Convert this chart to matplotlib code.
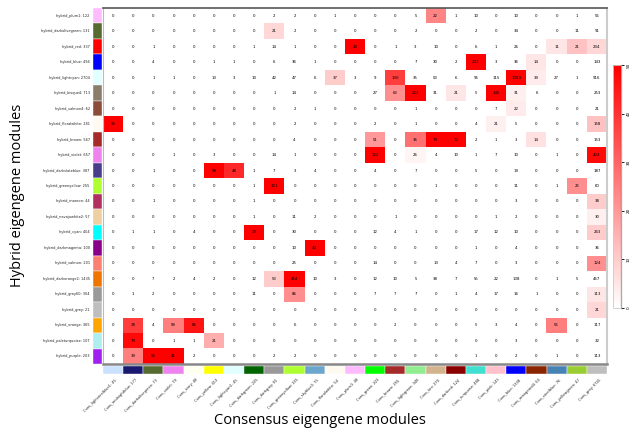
import matplotlib
matplotlib.use('Agg')
import matplotlib.pyplot as plt
import numpy as np
from matplotlib.colors import LinearSegmentedColormap, Normalize
from matplotlib.cm import ScalarMappable

# ---------------- data ----------------
row_labels = [
    "hybrid_plum1: 122", "hybrid_darkolivegreen: 131", "hybrid_red: 337",
    "hybrid_blue: 494", "hybrid_lightcyan: 2704", "hybrid_bisque4: 713",
    "hybrid_salmon4: 62", "hybrid_floralwhite: 281", "hybrid_brown: 567",
    "hybrid_violet: 657", "hybrid_darkslateblue: 387", "hybrid_greenyellow: 255",
    "hybrid_maroon: 44", "hybrid_navajowhite2: 57", "hybrid_cyan: 404",
    "hybrid_darkmagenta: 100", "hybrid_salmon: 201", "hybrid_darkorange2: 1435",
    "hybrid_grey60: 304", "hybrid_grey: 21", "hybrid_orange: 365",
    "hybrid_paleturquoise: 107", "hybrid_purple: 203",
]
row_colors = [
    "#FFBBFF", "#556B2F", "#FF0000", "#0000FF", "#E0FFFF", "#8B7D6B",
    "#8B4C39", "#FFFAF0", "#A52A2A", "#EE82EE", "#483D8B", "#ADFF2F",
    "#B03060", "#EECFA1", "#00FFFF", "#8B008B", "#FA8072", "#EE7600",
    "#999999", "#BEBEBE", "#FFA500", "#AFEEEE", "#A020F0",
]
col_labels = [
    "Cons_lightsteelblue1: 45", "Cons_midnightblue: 177", "Cons_darkolivegreen: 73",
    "Cons_violet: 79", "Cons_ivory: 48", "Cons_yellow: 413", "Cons_lightcyan1: 45",
    "Cons_darkgreen: 225", "Cons_darkgrey: 81", "Cons_greenyellow: 335",
    "Cons_skyblue3: 75", "Cons_floralwhite: 54", "Cons_plum1: 48", "Cons_green: 223",
    "Cons_brown: 255", "Cons_lightgreen: 348", "Cons_tan: 270", "Cons_darkred: 124",
    "Cons_turquoise: 488", "Cons_pink: 143", "Cons_blue: 1338", "Cons_orangered4: 64",
    "Cons_steelblue: 76", "Cons_yellowgreen: 47", "Cons_grey: 6741",
]
col_colors = [
    "#CAE1FF", "#191970", "#556B2F", "#EE82EE", "#FFFFF0", "#FFFF00", "#E0FFFF",
    "#006400", "#999999", "#ADFF2F", "#6CA6CD", "#FFFAF0", "#FFBBFF", "#00FF00",
    "#A52A2A", "#90EE90", "#D2B48C", "#8B0000", "#40E0D0", "#FFC0CB", "#0000FF",
    "#8B2500", "#4682B4", "#9ACD32", "#BEBEBE",
]

# gene overlap counts (rows = hybrid modules, cols = consensus modules)
overlap_counts = [
    [0, 0, 0, 0, 0, 0, 0, 0, 2, 2, 0, 1, 0, 0, 0, 5, 22, 1, 10, 0, 10, 0, 0, 1, 56],
    [0, 0, 0, 0, 0, 0, 0, 0, 21, 2, 0, 0, 0, 0, 0, 2, 0, 0, 2, 0, 34, 0, 0, 11, 91],
    [0, 0, 1, 0, 0, 0, 0, 1, 14, 1, 0, 0, 40, 0, 1, 3, 10, 0, 6, 1, 26, 0, 11, 21, 234],
    [0, 0, 4, 0, 0, 1, 1, 0, 6, 36, 1, 0, 0, 0, 0, 7, 30, 2, 203, 3, 36, 14, 0, 0, 143],
    [0, 0, 1, 1, 0, 13, 3, 10, 42, 47, 6, 37, 3, 9, 130, 35, 53, 6, 95, 115, 1084, 39, 27, 1, 916],
    [0, 0, 0, 0, 0, 0, 0, 0, 1, 14, 0, 0, 0, 27, 63, 223, 31, 21, 5, 146, 31, 6, 0, 0, 253],
    [0, 0, 0, 0, 0, 0, 0, 0, 0, 2, 1, 0, 0, 0, 0, 1, 0, 0, 0, 7, 22, 0, 0, 0, 21],
    [95, 0, 0, 0, 0, 0, 0, 0, 0, 2, 0, 0, 0, 2, 0, 1, 0, 0, 4, 21, 5, 0, 0, 0, 158],
    [0, 0, 0, 0, 0, 0, 0, 0, 0, 4, 0, 0, 0, 51, 0, 36, 79, 72, 2, 1, 3, 14, 0, 0, 153],
    [0, 0, 0, 1, 0, 3, 0, 0, 14, 1, 0, 0, 0, 162, 0, 26, 4, 10, 1, 7, 10, 0, 1, 0, 423],
    [0, 0, 1, 0, 0, 98, 48, 1, 7, 3, 4, 0, 0, 4, 0, 7, 0, 0, 5, 0, 19, 0, 0, 0, 187],
    [0, 0, 0, 0, 0, 0, 0, 1, 121, 0, 0, 0, 0, 0, 0, 0, 1, 0, 0, 0, 11, 0, 1, 25, 60],
    [0, 0, 1, 0, 0, 0, 0, 1, 0, 0, 0, 0, 0, 0, 0, 0, 0, 0, 0, 0, 3, 0, 0, 0, 38],
    [0, 0, 0, 0, 0, 0, 0, 1, 0, 11, 2, 0, 0, 0, 1, 0, 0, 0, 0, 1, 2, 0, 0, 0, 30],
    [0, 1, 1, 0, 4, 0, 0, 39, 0, 30, 0, 0, 0, 12, 4, 1, 0, 0, 17, 12, 10, 0, 0, 0, 263],
    [0, 0, 0, 0, 0, 0, 0, 0, 0, 10, 40, 0, 0, 0, 0, 0, 0, 0, 1, 0, 4, 0, 0, 0, 36],
    [0, 0, 0, 0, 0, 0, 0, 0, 0, 25, 0, 0, 0, 14, 0, 0, 13, 4, 7, 0, 3, 0, 0, 0, 124],
    [0, 0, 7, 2, 4, 2, 0, 12, 53, 454, 10, 3, 0, 12, 10, 5, 38, 7, 55, 22, 138, 0, 1, 5, 457],
    [0, 1, 2, 0, 0, 0, 0, 11, 0, 86, 0, 0, 0, 7, 7, 7, 0, 1, 4, 17, 16, 1, 0, 0, 113],
    [0, 0, 0, 0, 0, 0, 0, 0, 0, 0, 0, 0, 0, 0, 0, 0, 0, 0, 0, 0, 0, 0, 0, 0, 21],
    [0, 28, 4, 58, 85, 0, 0, 0, 0, 6, 0, 0, 0, 0, 2, 0, 0, 0, 5, 3, 4, 0, 56, 0, 117],
    [0, 79, 0, 1, 1, 21, 0, 0, 0, 0, 0, 0, 0, 0, 0, 0, 0, 0, 0, 0, 3, 0, 0, 0, 32],
    [0, 39, 53, 41, 2, 0, 0, 0, 2, 2, 0, 0, 0, 0, 0, 0, 0, 0, 1, 0, 2, 0, 1, 0, 113],
]

# significance (-log10 p) for coloured cells: row index, column index, value
sig_rows = [0, 1, 2, 2, 2, 2, 3, 3, 4, 4, 4, 4, 5, 5, 5, 5, 5, 6, 7, 7, 7,
            8, 8, 8, 8, 8, 9, 9, 9, 10, 10, 11, 11, 12, 13, 14, 14, 15, 16,
            17, 17, 18, 18, 19, 20, 20, 20, 20, 21, 21, 22, 22, 22]
sig_cols = [16, 8, 12, 22, 23, 24, 18, 21, 11, 14, 20, 21, 14, 15, 17, 19, 20, 20, 0, 19, 24,
            13, 15, 16, 17, 21, 13, 15, 24, 5, 6, 8, 23, 24, 24, 7, 24, 10, 24,
            8, 9, 9, 24, 24, 1, 3, 4, 22, 1, 5, 1, 2, 3]
sig_vals = [24, 8, 50, 5, 12, 8, 50, 5, 10, 38, 50, 4, 22, 50, 5, 50, 3, 4, 50, 3, 12,
            20, 28, 50, 50, 6, 50, 2, 48, 50, 42, 50, 22, 10, 3, 50, 10, 50, 22,
            10, 50, 22, 5, 8, 38, 25, 46, 25, 48, 16, 25, 50, 50]

cbar_ticks = [0, 10, 20, 30, 40, 50]

# ---------------- figure ----------------
W, H = 637, 437
fig = plt.figure(figsize=(W / 100, H / 100), dpi=100)
fig.patch.set_facecolor('white')

n_rows, n_cols = len(row_labels), len(col_labels)
sig = np.zeros((n_rows, n_cols))
for r, c, v in zip(sig_rows, sig_cols, sig_vals):
    sig[r, c] = v

cmap = LinearSegmentedColormap.from_list('wr', ['#FFFFFF', '#FF0000'])
norm = Normalize(vmin=0, vmax=50)

hx0, hx1, hy0, hy1 = 103, 607, 8, 364
ax = fig.add_axes([hx0 / W, 1 - hy1 / H, (hx1 - hx0) / W, (hy1 - hy0) / H])
ax.imshow(sig, cmap=cmap, norm=norm, aspect='auto', interpolation='nearest')
for i in range(n_rows):
    for j in range(n_cols):
        ax.text(j, i, str(overlap_counts[i][j]), ha='center', va='center',
                fontsize=2.8, color='black')
ax.set_xticks([])
ax.set_yticks([])
ax.spines['top'].set_color('#555555')
ax.spines['top'].set_linewidth(1.2)
ax.spines['left'].set_color('#bbbbbb')
ax.spines['left'].set_linewidth(0.8)
ax.spines['right'].set_color('#cccccc')
ax.spines['right'].set_linewidth(1.5)
ax.spines['bottom'].set_color('#888888')
ax.spines['bottom'].set_linewidth(1.8)

# row colour swatches
axr = fig.add_axes([93 / W, 1 - hy1 / H, 9 / W, (hy1 - hy0) / H])
axr.barh(range(n_rows), 1, height=1.0, color=row_colors, edgecolor='white', linewidth=0.3)
axr.set_ylim(n_rows - 0.5, -0.5)
axr.set_xlim(0, 1)
axr.axis('off')
for i, lab in enumerate(row_labels):
    axr.text(-0.35, i, lab, ha='right', va='center', fontsize=2.5, color='#222222')

# column colour swatches
axc = fig.add_axes([hx0 / W, 1 - 374 / H, (hx1 - hx0) / W, 8 / H])
axc.bar(range(n_cols), 1, width=1.0, color=col_colors, edgecolor='white', linewidth=0.3)
axc.set_xlim(-0.5, n_cols - 0.5)
axc.set_ylim(0, 1)
axc.axis('off')
for j, lab in enumerate(col_labels):
    axc.text(j + 0.1, -0.5, lab, ha='right', va='top', rotation=45,
             rotation_mode='anchor', fontsize=2.6, color='#222222')

# colour bar
cax = fig.add_axes([613 / W, 1 - 308 / H, 8 / W, 243 / H])
cb = fig.colorbar(ScalarMappable(norm=norm, cmap=cmap), cax=cax, ticks=cbar_ticks)
cb.outline.set_edgecolor('#cccccc')
cb.outline.set_linewidth(0.6)
cax.plot([1, 1], [0, 1], transform=cax.transAxes, color='black', lw=0.8, clip_on=False)
cax.tick_params(axis='y', length=2.5, width=0.6, pad=1.5, labelsize=3)
for t in cax.get_yticklabels():
    t.set_rotation(90)
    t.set_va('center')

# axis titles
fig.text(320 / W, 1 - 421 / H, 'Consensus eigengene modules', ha='center', va='center',
         fontsize=10.5, family='Open Sans')
fig.text(18 / W, 1 - 195 / H, 'Hybrid eigengene modules', ha='center', va='center',
         rotation=90, fontsize=10.5, family='Open Sans')

fig.savefig('out.png', dpi=100, facecolor='white')
